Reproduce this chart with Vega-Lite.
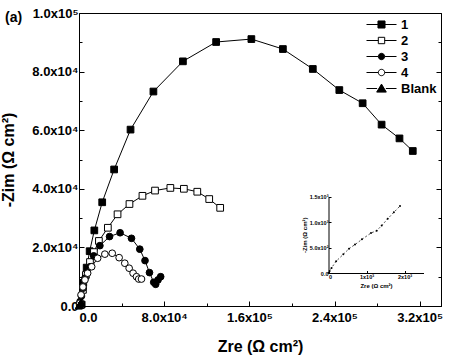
{
  "$schema": "https://vega.github.io/schema/vega-lite/v6.json",
  "width": 362,
  "height": 293,
  "autosize": "none",
  "padding": {"left": 79, "top": 13, "right": 20, "bottom": 54},
  "background": "white",
  "title": {"text": "(a)", "anchor": "start", "frame": "group", "dx": -74, "dy": 22, "fontSize": 14, "fontWeight": "bold", "font": "Liberation Sans", "color": "black"},
  "config": {
    "font": "Liberation Sans",
    "view": {"stroke": "black", "strokeWidth": 1},
    "axis": {"grid": false, "domain": false, "domainColor": "black", "labelFont": "Liberation Sans", "labelFontWeight": "bold", "labelFontSize": 13, "labelColor": "black", "tickColor": "black", "titleFont": "Liberation Sans", "titleFontWeight": "bold", "titleFontSize": 16, "titleColor": "black"}
  },
  "datasets": {
    "eis": [
      {"series": "1", "zre": 2500, "zim": 500},
      {"series": "1", "zre": 4000, "zim": 7900},
      {"series": "1", "zre": 7200, "zim": 13100},
      {"series": "1", "zre": 10000, "zim": 18700},
      {"series": "1", "zre": 14400, "zim": 25800},
      {"series": "1", "zre": 21800, "zim": 35400},
      {"series": "1", "zre": 33000, "zim": 46600},
      {"series": "1", "zre": 48400, "zim": 60200},
      {"series": "1", "zre": 69900, "zim": 73200},
      {"series": "1", "zre": 97600, "zim": 83500},
      {"series": "1", "zre": 128800, "zim": 90100},
      {"series": "1", "zre": 161900, "zim": 91100},
      {"series": "1", "zre": 191500, "zim": 87700},
      {"series": "1", "zre": 219600, "zim": 80900},
      {"series": "1", "zre": 244500, "zim": 73700},
      {"series": "1", "zre": 266400, "zim": 69200},
      {"series": "1", "zre": 284200, "zim": 61900},
      {"series": "1", "zre": 301000, "zim": 57200},
      {"series": "1", "zre": 313500, "zim": 52900},
      {"series": "2", "zre": 1400, "zim": 300},
      {"series": "2", "zre": 3700, "zim": 5500},
      {"series": "2", "zre": 6500, "zim": 10600},
      {"series": "2", "zre": 10300, "zim": 15000},
      {"series": "2", "zre": 14000, "zim": 18400},
      {"series": "2", "zre": 18700, "zim": 22200},
      {"series": "2", "zre": 27100, "zim": 26700},
      {"series": "2", "zre": 36200, "zim": 31300},
      {"series": "2", "zre": 47400, "zim": 34800},
      {"series": "2", "zre": 59600, "zim": 37600},
      {"series": "2", "zre": 71400, "zim": 39400},
      {"series": "2", "zre": 85800, "zim": 40300},
      {"series": "2", "zre": 98500, "zim": 40000},
      {"series": "2", "zre": 111100, "zim": 39000},
      {"series": "2", "zre": 122300, "zim": 36500},
      {"series": "2", "zre": 132600, "zim": 33500},
      {"series": "3", "zre": 1000, "zim": 1500},
      {"series": "3", "zre": 2300, "zim": 3400},
      {"series": "3", "zre": 3700, "zim": 6100},
      {"series": "3", "zre": 5600, "zim": 9500},
      {"series": "3", "zre": 10300, "zim": 13400},
      {"series": "3", "zre": 13800, "zim": 17100},
      {"series": "3", "zre": 19600, "zim": 20600},
      {"series": "3", "zre": 28700, "zim": 23700},
      {"series": "3", "zre": 38600, "zim": 25000},
      {"series": "3", "zre": 49300, "zim": 23100},
      {"series": "3", "zre": 57100, "zim": 19400},
      {"series": "3", "zre": 62000, "zim": 15500},
      {"series": "3", "zre": 66200, "zim": 11400},
      {"series": "3", "zre": 70200, "zim": 8100},
      {"series": "3", "zre": 72000, "zim": 7400},
      {"series": "3", "zre": 74200, "zim": 8900},
      {"series": "3", "zre": 76700, "zim": 10000},
      {"series": "4", "zre": 900, "zim": 1000},
      {"series": "4", "zre": 1900, "zim": 3800},
      {"series": "4", "zre": 3700, "zim": 6500},
      {"series": "4", "zre": 5600, "zim": 8900},
      {"series": "4", "zre": 8100, "zim": 11200},
      {"series": "4", "zre": 11900, "zim": 13400},
      {"series": "4", "zre": 17500, "zim": 16300},
      {"series": "4", "zre": 24300, "zim": 17700},
      {"series": "4", "zre": 31200, "zim": 18000},
      {"series": "4", "zre": 37700, "zim": 16500},
      {"series": "4", "zre": 43000, "zim": 14600},
      {"series": "4", "zre": 47100, "zim": 12900},
      {"series": "4", "zre": 50800, "zim": 11200},
      {"series": "4", "zre": 54000, "zim": 10000},
      {"series": "4", "zre": 56100, "zim": 9200},
      {"series": "4", "zre": 58700, "zim": 9200},
      {"series": "Blank", "zre": 0, "zim": 0},
      {"series": "Blank", "zre": 30, "zim": 40},
      {"series": "Blank", "zre": 80, "zim": 100},
      {"series": "Blank", "zre": 200, "zim": 230},
      {"series": "Blank", "zre": 390, "zim": 366},
      {"series": "Blank", "zre": 540, "zim": 477},
      {"series": "Blank", "zre": 697, "zim": 557},
      {"series": "Blank", "zre": 880, "zim": 660},
      {"series": "Blank", "zre": 1118, "zim": 784},
      {"series": "Blank", "zre": 1268, "zim": 830},
      {"series": "Blank", "zre": 1400, "zim": 930},
      {"series": "Blank", "zre": 1557, "zim": 1062},
      {"series": "Blank", "zre": 1720, "zim": 1190},
      {"series": "Blank", "zre": 1882, "zim": 1313}
    ]
  },
  "data": {"name": "eis"},
  "layer": [
    {
      "encoding": {
        "x": {"field": "zre", "type": "quantitative", "scale": {"domain": [0, 340000], "nice": false, "zero": false}},
        "y": {"field": "zim", "type": "quantitative", "scale": {"domain": [0, 100000], "nice": false, "zero": false}}
      },
      "layer": [
        {
          "mark": {"type": "line", "color": "black", "strokeWidth": 1},
          "encoding": {
            "detail": {"field": "series"},
            "x": {"field": "zre", "type": "quantitative", "axis": {
              "orient": "bottom", "title": "Zre (Ω cm²)", "titlePadding": 14, "domain": true,
              "values": [0, 80000, 160000, 240000, 320000],
              "tickSize": -5,
              "labelPadding": 10,
              "labelExpr": "datum.value === 0 ? '0.0' : datum.value === 80000 ? '8.0x10⁴' : datum.value === 160000 ? '1.6x10⁵' : datum.value === 240000 ? '2.4x10⁵' : '3.2x10⁵'"
            }},
            "y": {"field": "zim", "type": "quantitative", "axis": {
              "orient": "left", "title": "-Zim (Ω cm²)", "titlePadding": 15, "domain": true,
              "values": [0, 10000, 20000, 30000, 40000, 50000, 60000, 70000, 80000, 90000, 100000],
              "tickSize": {"condition": {"test": "datum.value % 20000 === 0", "value": -5}, "value": -3},
              "labelPadding": 6,
              "labelExpr": "datum.value === 0 ? '0.0' : datum.value === 20000 ? '2.0x10⁴' : datum.value === 40000 ? '4.0x10⁴' : datum.value === 60000 ? '6.0x10⁴' : datum.value === 80000 ? '8.0x10⁴' : datum.value === 100000 ? '1.0x10⁵' : ''"
            }}
          }
        },
        {
          "mark": {"type": "point", "stroke": "black", "strokeWidth": 1, "opacity": 1, "fillOpacity": 1, "size": 45},
          "encoding": {
            "x": {"field": "zre", "type": "quantitative", "axis": {
              "orient": "bottom", "title": null, "labels": false, "domain": false,
              "values": [40000, 120000, 200000, 280000], "tickSize": -3
            }},
            "y": {"field": "zim", "type": "quantitative", "axis": null},
            "shape": {"field": "series", "type": "nominal", "legend": null, "scale": {"domain": ["1", "2", "3", "4", "Blank"], "range": ["square", "square", "circle", "circle", "triangle-up"]}},
            "fill": {"field": "series", "type": "nominal", "legend": null, "scale": {"domain": ["1", "2", "3", "4", "Blank"], "range": ["black", "white", "black", "white", "black"]}}
          }
        },
        {
          "transform": [{"filter": "false"}],
          "mark": {"type": "point", "strokeWidth": 1, "fillOpacity": 1},
          "encoding": {
            "x": {"field": "zre", "type": "quantitative", "axis": null},
            "y": {"field": "zim", "type": "quantitative", "axis": null},
            "shape": {"field": "series", "type": "nominal", "scale": {"domain": ["1", "2", "3", "4", "Blank"], "range": [
              "M-1.875,0H-0.44M0.44,0H1.875M-0.44,-0.44H0.44V0.44H-0.44Z",
              "M-1.875,0H-0.4M0.4,0H1.875M-0.4,-0.4H0.4V0.4H-0.4Z",
              "M-1.875,0H-0.4M0.4,0H1.875M-0.4,0A0.4,0.4 0 1,0 0.4,0A0.4,0.4 0 1,0 -0.4,0Z",
              "M-1.875,0H-0.4M0.4,0H1.875M-0.4,0A0.4,0.4 0 1,0 0.4,0A0.4,0.4 0 1,0 -0.4,0Z",
              "M-1.875,0H-0.55M0.55,0H1.875M0,-0.55L0.6,0.45H-0.6Z"
            ]}, "legend": {"orient": "none", "legendX": 294, "legendY": 3, "title": null, "symbolSize": 256, "symbolStrokeWidth": 1, "symbolOpacity": 1, "labelFont": "Liberation Sans", "labelFontWeight": "bold", "labelFontSize": 13, "labelColor": "black", "rowPadding": 0, "labelOffset": 11}},
            "fill": {"field": "series", "type": "nominal", "scale": {"domain": ["1", "2", "3", "4", "Blank"], "range": ["black", "white", "black", "white", "black"]}},
            "stroke": {"field": "series", "type": "nominal", "scale": {"domain": ["1", "2", "3", "4", "Blank"], "range": ["black", "black", "black", "black", "black"]}}
          }
        },
        {
          "transform": [{"filter": "false"}],
          "mark": {"type": "point", "opacity": 0},
          "encoding": {
            "x": {"field": "zre", "type": "quantitative", "axis": null},
            "y": {"field": "zim", "type": "quantitative", "axis": {
              "orient": "right", "title": null, "labels": false, "domain": true,
              "values": [0, 10000, 20000, 30000, 40000, 50000, 60000, 70000, 80000, 90000, 100000],
              "tickSize": {"condition": {"test": "datum.value % 20000 === 0", "value": -5}, "value": -3}
            }}
          }
        },
        {
          "data": {"values": [{}]},
          "mark": {"type": "rule", "color": "black", "strokeWidth": 1},
          "encoding": {"x": {"datum": 0, "axis": null}, "x2": {"datum": 340000}, "y": {"datum": 100000, "axis": null}}
        },
        {
          "data": {"values": [{}]},
          "mark": {"type": "rule", "color": "black", "strokeWidth": 1},
          "encoding": {"x": {"datum": 0, "axis": null}, "x2": {"datum": 340000}, "y": {"datum": 0, "axis": null}}
        },
        {
          "data": {"values": [{}]},
          "mark": {"type": "rule", "color": "black", "strokeWidth": 1},
          "encoding": {"x": {"datum": 0, "axis": null}, "y": {"datum": 0, "axis": null}, "y2": {"datum": 100000}}
        },
        {
          "data": {"values": [{}]},
          "mark": {"type": "rule", "color": "black", "strokeWidth": 1},
          "encoding": {"x": {"datum": 340000, "axis": null}, "y": {"datum": 0, "axis": null}, "y2": {"datum": 100000}}
        }
      ],
      "resolve": {"scale": {"shape": "independent", "fill": "independent", "stroke": "independent"}, "axis": {"x": "independent", "y": "independent"}}
    },
    {
      "transform": [{"filter": "datum.series === 'Blank'"}],
      "encoding": {
        "x": {"field": "zre", "type": "quantitative", "scale": {"domain": [0, 2500], "nice": false, "zero": false, "range": [249.5, 344.5]}},
        "y": {"field": "zim", "type": "quantitative", "scale": {"domain": [0, 1500], "nice": false, "zero": false, "range": [260, 183.5]}}
      },
      "layer": [
        {
          "mark": {"type": "line", "color": "black", "strokeWidth": 0.7, "strokeDash": [2, 2]},
          "encoding": {
            "x": {"field": "zre", "type": "quantitative", "axis": {
              "orient": "bottom", "offset": -33, "domain": true, "title": "Zre (Ω cm²)", "titleFontSize": 6, "titlePadding": 2,
              "values": [0, 1000, 2000], "tickSize": -2.5,
              "labelFontSize": 5.5, "labelPadding": 4,
              "labelExpr": "datum.value === 0 ? '0' : datum.value === 1000 ? '1x10³' : '2x10³'"
            }},
            "y": {"field": "zim", "type": "quantitative", "axis": {
              "orient": "left", "offset": -249.5, "domain": true, "title": "-Zim (Ω cm²)", "titleFontSize": 6, "titlePadding": 2,
              "values": [0, 500, 1000, 1500], "tickSize": -2.5,
              "labelFontSize": 5.5, "labelPadding": 3,
              "labelExpr": "datum.value === 0 ? '0.0' : datum.value === 500 ? '5.0x10²' : datum.value === 1000 ? '1.0x10³' : '1.5x10³'"
            }}
          }
        },
        {
          "mark": {"type": "point", "filled": true, "color": "black", "size": 4, "opacity": 1},
          "encoding": {
            "x": {"field": "zre", "type": "quantitative", "axis": null},
            "y": {"field": "zim", "type": "quantitative", "axis": null}
          }
        },
        {
          "data": {"values": [{}]},
          "mark": {"type": "rule", "color": "black", "strokeWidth": 1},
          "encoding": {"x": {"datum": 0, "axis": null}, "x2": {"datum": 2500}, "y": {"datum": 1500, "axis": null}}
        },
        {
          "data": {"values": [{}]},
          "mark": {"type": "rule", "color": "black", "strokeWidth": 1},
          "encoding": {"x": {"datum": 0, "axis": null}, "x2": {"datum": 2500}, "y": {"datum": 0, "axis": null}}
        },
        {
          "data": {"values": [{}]},
          "mark": {"type": "rule", "color": "black", "strokeWidth": 1},
          "encoding": {"x": {"datum": 0, "axis": null}, "y": {"datum": 0, "axis": null}, "y2": {"datum": 1500}}
        },
        {
          "data": {"values": [{}]},
          "mark": {"type": "rule", "color": "black", "strokeWidth": 1},
          "encoding": {"x": {"datum": 2500, "axis": null}, "y": {"datum": 0, "axis": null}, "y2": {"datum": 1500}}
        }
      ],
      "resolve": {"axis": {"x": "independent", "y": "independent"}}
    }
  ],
  "resolve": {"scale": {"x": "independent", "y": "independent"}, "axis": {"x": "independent", "y": "independent"}}
}
